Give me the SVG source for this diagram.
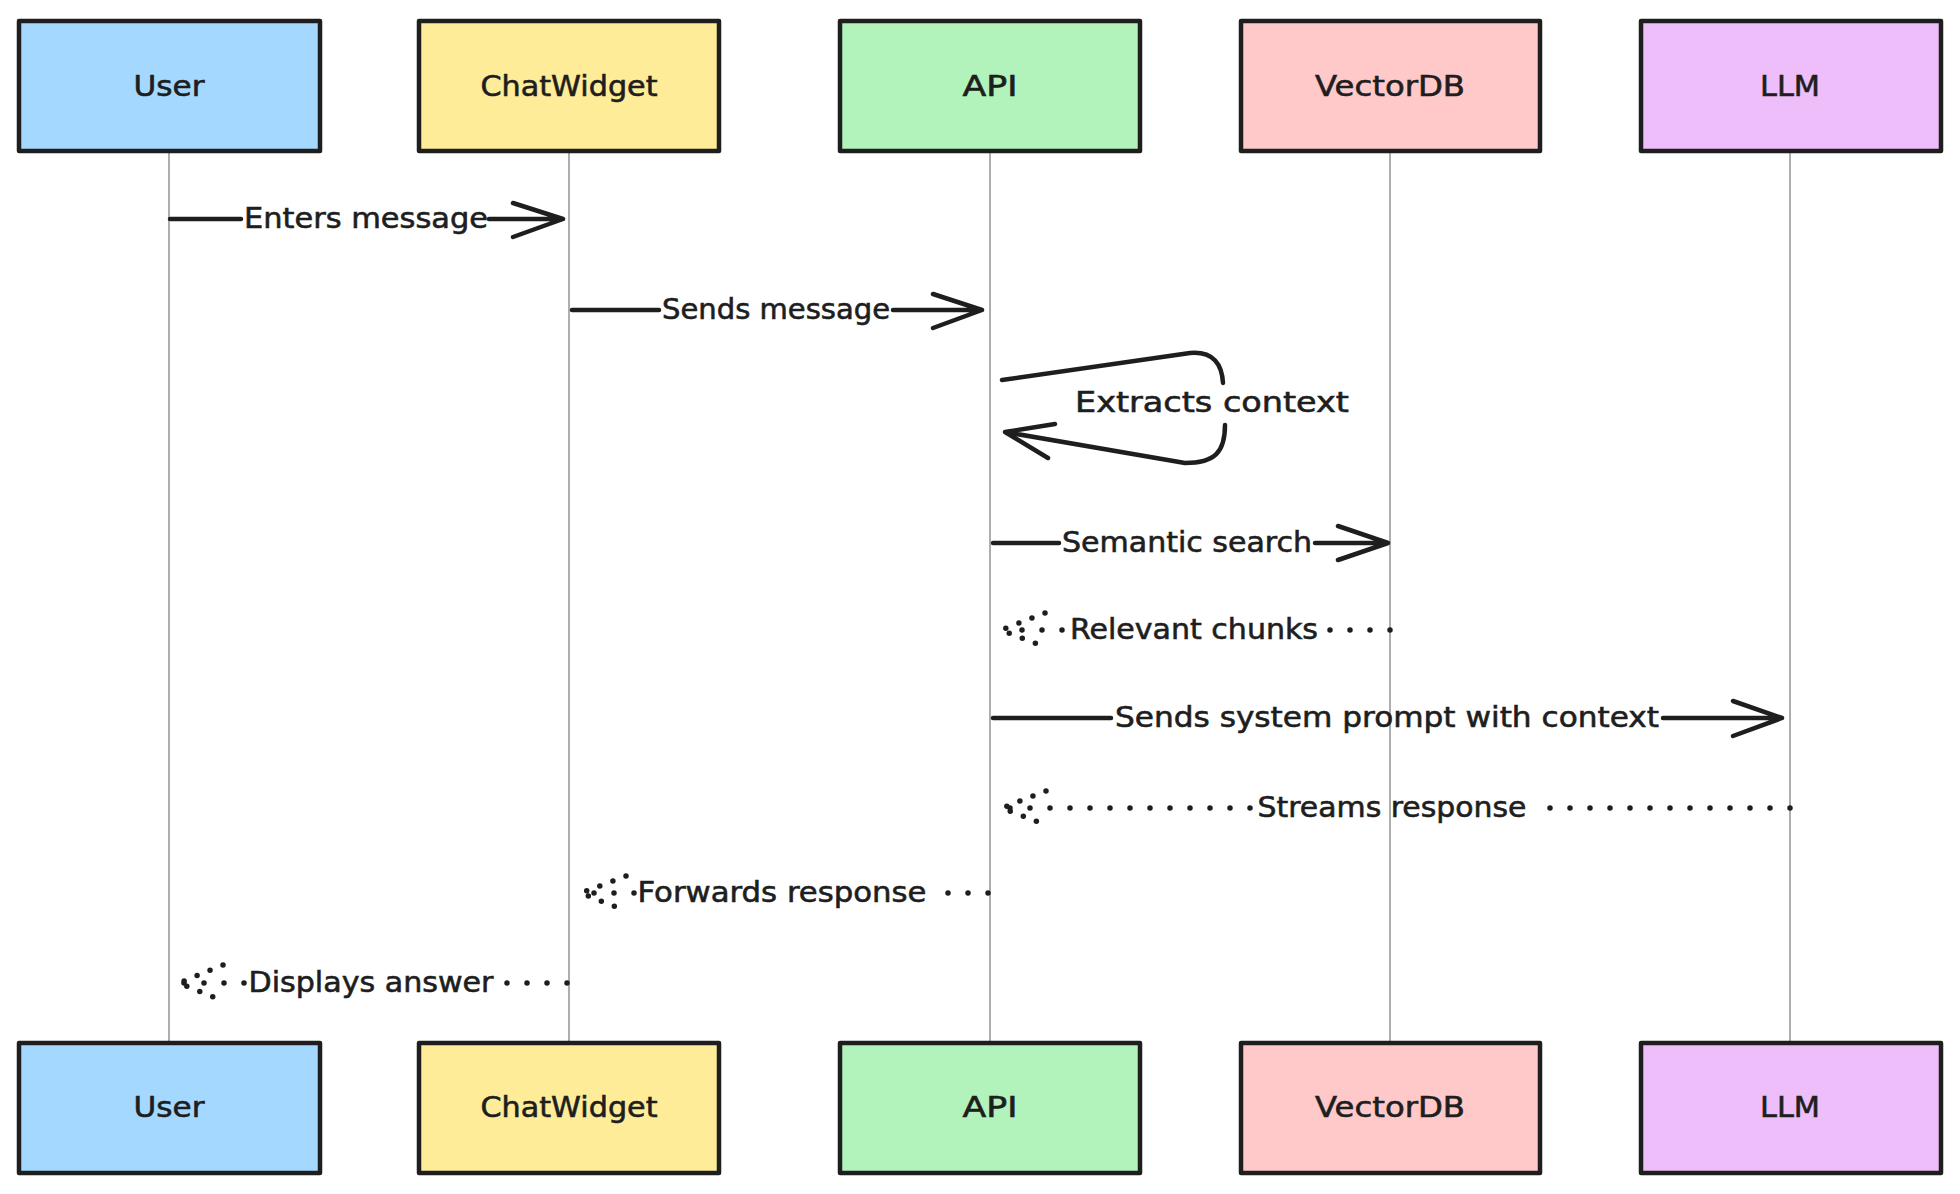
<svg xmlns="http://www.w3.org/2000/svg" width="1960" height="1194" viewBox="0 0 1960 1194">
<style>
.box{stroke:#1e1e1e;stroke-width:4.5;stroke-linejoin:round}
.life{stroke:#9a9a9a;stroke-width:1.6;fill:none}
.sol{stroke:#1e1e1e;stroke-width:4.5;fill:none;stroke-linecap:round;stroke-linejoin:round}
.dot{stroke:#1e1e1e;stroke-width:5.5;fill:none;stroke-linecap:round;stroke-dasharray:0 20}
.dhead{stroke:#1e1e1e;stroke-width:5.5;fill:none;stroke-linecap:round;stroke-dasharray:0 14}
.nt{font-family:"DejaVu Sans","Liberation Sans",sans-serif;font-size:28px;fill:#1e1e1e;stroke:#1e1e1e;stroke-width:0.6;text-anchor:middle}
.lt{font-family:"DejaVu Sans","Liberation Sans",sans-serif;font-size:28px;fill:#1e1e1e;stroke:#1e1e1e;stroke-width:0.6;text-anchor:middle}
</style>
<rect width="1960" height="1194" fill="#ffffff"/>
<g id="lifelines">
<line class="life" x1="169" y1="151" x2="169" y2="1043"/>
<line class="life" x1="569" y1="151" x2="569" y2="1043"/>
<line class="life" x1="990" y1="151" x2="990" y2="1043"/>
<line class="life" x1="1390" y1="151" x2="1390" y2="1043"/>
<line class="life" x1="1790" y1="151" x2="1790" y2="1043"/>
</g>
<g id="node-user-top"><rect class="box" x="19" y="21" width="301" height="130" fill="#a5d8ff"/><text class="nt" x="169" y="96" textLength="71" lengthAdjust="spacingAndGlyphs">User</text></g>
<g id="node-chatwidget-top"><rect class="box" x="419" y="21" width="300" height="130" fill="#ffec99"/><text class="nt" x="569" y="96" textLength="177" lengthAdjust="spacingAndGlyphs">ChatWidget</text></g>
<g id="node-api-top"><rect class="box" x="840" y="21" width="300" height="130" fill="#b2f2bb"/><text class="nt" x="990" y="96" textLength="55" lengthAdjust="spacingAndGlyphs">API</text></g>
<g id="node-vectordb-top"><rect class="box" x="1241" y="21" width="299" height="130" fill="#ffc9c9"/><text class="nt" x="1390" y="96" textLength="150" lengthAdjust="spacingAndGlyphs">VectorDB</text></g>
<g id="node-llm-top"><rect class="box" x="1641" y="21" width="300" height="130" fill="#eebefa"/><text class="nt" x="1790" y="96" textLength="60" lengthAdjust="spacingAndGlyphs">LLM</text></g>
<g id="node-user-bottom"><rect class="box" x="19" y="1043" width="301" height="130" fill="#a5d8ff"/><text class="nt" x="169" y="1117" textLength="71" lengthAdjust="spacingAndGlyphs">User</text></g>
<g id="node-chatwidget-bottom"><rect class="box" x="419" y="1043" width="300" height="130" fill="#ffec99"/><text class="nt" x="569" y="1117" textLength="177" lengthAdjust="spacingAndGlyphs">ChatWidget</text></g>
<g id="node-api-bottom"><rect class="box" x="840" y="1043" width="300" height="130" fill="#b2f2bb"/><text class="nt" x="990" y="1117" textLength="55" lengthAdjust="spacingAndGlyphs">API</text></g>
<g id="node-vectordb-bottom"><rect class="box" x="1241" y="1043" width="299" height="130" fill="#ffc9c9"/><text class="nt" x="1390" y="1117" textLength="150" lengthAdjust="spacingAndGlyphs">VectorDB</text></g>
<g id="node-llm-bottom"><rect class="box" x="1641" y="1043" width="300" height="130" fill="#eebefa"/><text class="nt" x="1790" y="1117" textLength="60" lengthAdjust="spacingAndGlyphs">LLM</text></g>
<g id="connectors">
<path class="sol" d="M170,219 L241,219 M489,219 L563,219 M513,203 L563,219 L513,237"/>
<text class="lt" x="366" y="228" textLength="244" lengthAdjust="spacingAndGlyphs">Enters message</text>
<path class="sol" d="M572,310 L659,310 M893,310 L982,310 M933,294 L982,310 L933,328"/>
<text class="lt" x="776" y="319" textLength="228" lengthAdjust="spacingAndGlyphs">Sends message</text>
<path class="sol" d="M1002,380 L1190,353 C1214,351 1222,365 1223,383 M1225,425 C1225,452 1215,463 1185,463 L1005,432 M1055,424 L1005,432 L1048,458"/>
<text class="lt" x="1212" y="412" textLength="274" lengthAdjust="spacingAndGlyphs">Extracts context</text>
<path class="sol" d="M993,543 L1059,543 M1315,543 L1388,543 M1338,526 L1388,543 L1338,560"/>
<text class="lt" x="1187" y="552" textLength="250" lengthAdjust="spacingAndGlyphs">Semantic search</text>
<path class="dot" d="M1390,630 L1322,630"/>
<path class="dot" d="M1062,630 L1002,630"/>
<path class="dhead" d="M1045,613 L1001,630 L1045,647"/>
<text class="lt" x="1194" y="639" textLength="248" lengthAdjust="spacingAndGlyphs">Relevant chunks</text>
<path class="sol" d="M993,718 L1111,718 M1663,718 L1782,718 M1733,701 L1782,718 L1733,736"/>
<text class="lt" x="1387" y="727" textLength="544" lengthAdjust="spacingAndGlyphs">Sends system prompt with context</text>
<path class="dot" d="M1790,808 L1532,808"/>
<path class="dot" d="M1250,808 L1002,808"/>
<path class="dhead" d="M1046,791 L1002,808 L1046,825"/>
<text class="lt" x="1392" y="817" textLength="269" lengthAdjust="spacingAndGlyphs">Streams response</text>
<path class="dot" d="M988,893 L928,893"/>
<path class="dot" d="M634,893 L581,893"/>
<path class="dhead" d="M626,876 L581,893 L626,911"/>
<text class="lt" x="782" y="902" textLength="289" lengthAdjust="spacingAndGlyphs">Forwards response</text>
<path class="dot" d="M567,983 L497,983"/>
<path class="dot" d="M244,983 L180,983"/>
<path class="dhead" d="M223,965 L179,983 L223,1001"/>
<text class="lt" x="371" y="992" textLength="245" lengthAdjust="spacingAndGlyphs">Displays answer</text>
</g>
</svg>
